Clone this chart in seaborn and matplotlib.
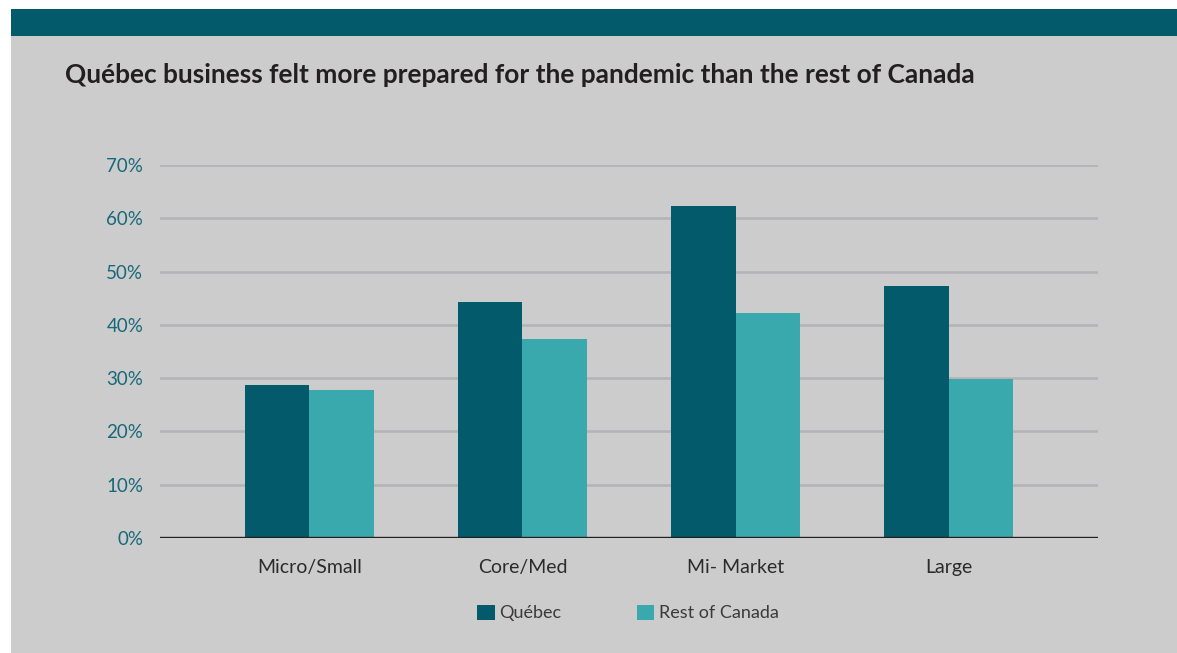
import matplotlib
matplotlib.use("Agg")
import matplotlib.pyplot as plt
from matplotlib.patches import Rectangle, Patch
import seaborn as sns
import pandas as pd

# Share of businesses that felt prepared for the pandemic, by company size
categories = ["Micro/Small", "Core/Med", "Mi- Market", "Large"]
quebec = [28.7, 44.3, 62.3, 47.3]
rest_of_canada = [27.8, 37.3, 42.2, 29.8]
series_names = ["Québec", "Rest of Canada"]
y_ticks = [0, 10, 20, 30, 40, 50, 60, 70]

title_text = "Québec business felt more prepared for the pandemic than the rest of Canada"

DARK_TEAL = "#025a6b"
LIGHT_TEAL = "#3aa9ae"
PANEL = "#cccccc"
GRID = "#b4b3b8"
TICK_BLUE = "#17687a"

df = pd.DataFrame({
    "size": categories * 2,
    "value": quebec + rest_of_canada,
    "region": [series_names[0]] * len(categories) + [series_names[1]] * len(categories),
})

sns.set_theme(style="white")
plt.rcParams["font.family"] = ["Lato", "DejaVu Sans"]

W, H = 1177, 653
fig = plt.figure(figsize=(W / 100, H / 100), dpi=100)
fig.patch.set_facecolor("white")

# grey card and header band
fig.add_artist(Rectangle((11 / W, 0), 1 - 11 / W, 1 - 9 / H, transform=fig.transFigure,
                         facecolor=PANEL, edgecolor="none", zorder=0))
fig.add_artist(Rectangle((11 / W, 1 - 36 / H), 1 - 11 / W, 27 / H, transform=fig.transFigure,
                         facecolor=DARK_TEAL, edgecolor="none", zorder=0))

fig.text(65 / W, 1 - 75 / H, title_text, fontsize=18.9, fontweight="bold",
         color="#231f20", ha="left", va="center")

ax = fig.add_axes([160 / W, (H - 538) / H, (1098 - 160) / W, (538 - 165) / H])
ax.set_facecolor("none")

sns.barplot(data=df, x="size", y="value", hue="region", order=categories,
            hue_order=series_names, palette=[DARK_TEAL, LIGHT_TEAL],
            width=0.605, gap=0, saturation=1, errorbar=None, ax=ax, zorder=3,
            legend=False)
for p in ax.patches:
    p.set_edgecolor("none")

ax.set_xlim(-0.70, 3.70)
ax.set_ylim(0, 70)
ax.set_yticks(y_ticks)
ax.set_yticklabels([f"{t}%" for t in y_ticks])
for t in y_ticks[1:]:
    ax.axhline(t, color=GRID, lw=1.9, zorder=1)
ax.axhline(0, color="#231f20", lw=1.7, zorder=4)

for s in ax.spines.values():
    s.set_visible(False)
ax.tick_params(axis="y", length=0, pad=12, labelsize=13.5, labelcolor=TICK_BLUE)
ax.tick_params(axis="x", length=0, pad=15, labelsize=14, labelcolor="#2b2b2b")
ax.set_xlabel("")
ax.set_ylabel("")

handles = [Patch(facecolor=DARK_TEAL, edgecolor="none"),
           Patch(facecolor=LIGHT_TEAL, edgecolor="none")]
fig.legend(handles, series_names, loc="center", bbox_to_anchor=(628 / W, (H - 613) / H),
           ncol=2, frameon=False, prop={"size": 13},
           handlelength=0.95, handleheight=0.95,
           handletextpad=0.25, columnspacing=4.2, labelcolor="#3a3a3a")

fig.savefig("out.png", dpi=100)
